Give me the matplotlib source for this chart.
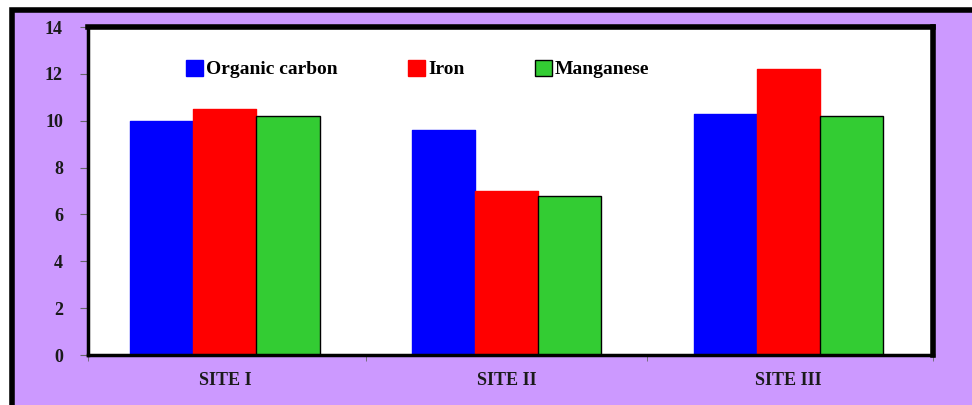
import numpy as np
import matplotlib.pyplot as plt
from matplotlib.patches import Rectangle

# data
sites = ['SITE I', 'SITE II', 'SITE III']
organic_carbon = [10.0, 9.6, 10.3]
iron = [10.5, 7.0, 12.2]
manganese = [10.2, 6.8, 10.2]
y_ticks = [0, 2, 4, 6, 8, 10, 12, 14]

plt.rcParams['font.family'] = ['Liberation Serif', 'DejaVu Serif']
plt.rcParams['font.weight'] = 'bold'

fig = plt.figure(figsize=(9.72, 4.05), dpi=100, facecolor='white')

# purple background with the black frame (top and left edges)
W, H = 972, 405
frame = Rectangle((12 / W, -0.05), 1.1, (H - 9.5) / H + 0.05,
                  transform=fig.transFigure, facecolor='#CC99FF',
                  edgecolor='black', linewidth=4, zorder=-5)
fig.patches.append(frame)

ax = fig.add_axes([88 / W, 50 / H, 845 / W, 328 / H])
ax.set_facecolor('white')

x = np.arange(len(sites))
w = 0.224
ax.bar(x - w, organic_carbon, w, color='#0000FF', edgecolor='#0000FF',
       linewidth=1.0, joinstyle='round', label='Organic carbon', zorder=2)
ax.bar(x, iron, w, color='#FF0000', edgecolor='#FF0000',
       linewidth=1.0, joinstyle='round', label='Iron', zorder=2)
ax.bar(x + w, manganese, w, color='#33CC33', edgecolor='black',
       linewidth=1.0, label='Manganese', zorder=2)

ax.set_xlim(-0.486, 2.514)
ax.set_ylim(0, 14)
ax.set_yticks(y_ticks)
ax.set_xticks(x)
ax.set_xticklabels(sites)
ax.set_xticks([-0.486, 0.5, 1.5, 2.514], minor=True)
ax.tick_params(axis='x', which='major', length=0, pad=12, labelsize=13)
ax.tick_params(axis='x', which='minor', length=4, color='#666666', direction='out')
ax.tick_params(axis='y', length=6, color='#666666', direction='out', pad=12, labelsize=13)
for lab in ax.get_xticklabels() + ax.get_yticklabels():
    lab.set_fontweight('bold')
    lab.set_color('#1a1a1a')

ax.spines['top'].set_linewidth(4)
ax.spines['right'].set_linewidth(4)
ax.spines['left'].set_linewidth(2.5)
ax.spines['bottom'].set_linewidth(2.5)
for s in ax.spines.values():
    s.set_color('black')

leg = ax.legend(ncol=3, loc='center', bbox_to_anchor=(0.39, 0.872),
                frameon=False, handlelength=0.9, handleheight=0.9,
                handletextpad=0.15, columnspacing=3.6,
                prop={'family': 'Liberation Serif', 'weight': 'bold', 'size': 14})

fig.savefig('out.png', dpi=100, facecolor=fig.get_facecolor())
